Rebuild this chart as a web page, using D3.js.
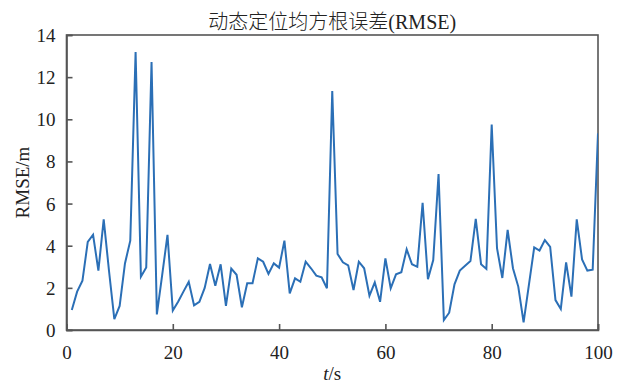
<!DOCTYPE html>
<html>
<head>
<meta charset="utf-8">
<script src="https://cdn.jsdelivr.net/npm/d3@7"></script>
<style>
	html, body { margin: 0; padding: 0; background: #fff; }
	svg { display: block; }
</style>
</head>
<body>
<div id="chart"></div>
<script>
// RMSE, one value per second, t = 1..100
var tValues = d3.range(1, 101);
var rmseValues = [
	0.95, 1.82, 2.34, 4.18, 4.52, 2.82, 5.25, 2.8, 0.52, 1.14,
	3.16, 4.24, 13.19, 2.53, 2.97, 12.72, 0.74, 2.6, 4.52, 0.92,
	1.34, 1.82, 2.29, 1.17, 1.34, 2.0, 3.13, 2.1, 3.12, 1.14,
	2.91, 2.62, 1.08, 2.22, 2.22, 3.4, 3.24, 2.66, 3.16, 2.96,
	4.24, 1.74, 2.45, 2.29, 3.24, 2.93, 2.58, 2.5, 1.98, 11.34,
	3.61, 3.21, 3.07, 1.9, 3.24, 2.93, 1.63, 2.26, 1.34, 3.4,
	1.98, 2.64, 2.74, 3.83, 3.12, 3.0, 6.04, 2.41, 3.32, 7.4,
	0.47, 0.82, 2.17, 2.82, 3.05, 3.27, 5.27, 3.12, 2.9, 9.75,
	3.88, 2.47, 4.75, 2.93, 2.06, 0.36, 2.14, 3.92, 3.77, 4.27,
	3.95, 1.42, 1.0, 3.21, 1.58, 5.25, 3.35, 2.82, 2.86, 9.33
];
var xTicks = [0, 20, 40, 60, 80, 100];
var yTicks = [0, 2, 4, 6, 8, 10, 12, 14];
var titleCn = "动态定位均方根误差";
var titleEn = "(RMSE)";
var yLabel = "RMSE/m";

var width = 624,
	height = 385,
	margin = {top: 35, right: 26, bottom: 55, left: 66.5},
	iw = width - margin.left - margin.right,
	ih = height - margin.top - margin.bottom,
	axisColor = "#555",
	lineColor = "#2b6fb6",
	numFont = "'Liberation Serif', 'DejaVu Serif', serif";

var svg = d3.select("#chart")
	.append("svg")
	.attr("width", width)
	.attr("height", height);

var x = d3.scaleLinear().domain([0, 100]).range([0, iw]);
var y = d3.scaleLinear().domain([0, 14]).range([ih, 0]);

var g = svg.append("g")
	.attr("transform", "translate(" + margin.left + "," + margin.top + ")");

// frame
g.append("rect")
	.attr("x", 0).attr("y", 0)
	.attr("width", iw).attr("height", ih)
	.attr("fill", "none")
	.attr("stroke", axisColor)
	.attr("stroke-width", 1.6);

var clipId = "plotclip";
g.append("clipPath").attr("id", clipId)
	.append("rect").attr("width", iw).attr("height", ih);

// axes with inward ticks
var xAxis = g.append("g")
	.attr("transform", "translate(0," + ih + ")")
	.call(d3.axisBottom(x).tickValues(xTicks).tickSize(-6).tickPadding(12).tickFormat(d3.format("d")));

var yAxis = g.append("g")
	.call(d3.axisLeft(y).tickValues(yTicks).tickSize(-6).tickPadding(11).tickFormat(d3.format("d")));

[xAxis, yAxis].forEach(function (a) {
	a.select(".domain").attr("stroke", axisColor).attr("stroke-width", 1.6);
	a.selectAll(".tick line").attr("stroke", axisColor).attr("stroke-width", 1.6);
	a.selectAll(".tick text")
		.attr("fill", "#222")
		.style("font-family", numFont)
		.style("font-size", "19px");
});
xAxis.selectAll(".tick text").attr("dy", "0.9em");
yAxis.selectAll(".tick text").attr("dy", "0.34em");

var line = d3.line()
	.x(function (d, i) { return x(tValues[i]); })
	.y(function (d) { return y(d); });

g.append("path")
	.datum(rmseValues)
	.attr("clip-path", "url(#" + clipId + ")")
	.attr("fill", "none")
	.attr("stroke", lineColor)
	.attr("stroke-width", 2)
	.attr("stroke-linejoin", "miter")
	.attr("d", line);

// title: Chinese part + serif latin part
var title = svg.append("text")
	.attr("x", margin.left + iw / 2)
	.attr("y", 29)
	.attr("text-anchor", "middle")
	.attr("fill", "#222")
	.style("font-size", "20px");
title.append("tspan")
	.style("font-family", "'Noto Sans CJK SC', sans-serif")
	.style("font-weight", 300)
	.text(titleCn);
title.append("tspan")
	.style("font-family", numFont)
	.text(titleEn);

// y label
svg.append("text")
	.attr("transform", "translate(29," + (margin.top + ih / 2) + ") rotate(-90)")
	.attr("text-anchor", "middle")
	.attr("fill", "#222")
	.style("font-family", numFont)
	.style("font-size", "19px")
	.text(yLabel);

// x label, t in italics
var xl = svg.append("text")
	.attr("x", margin.left + iw / 2)
	.attr("y", 380)
	.attr("text-anchor", "middle")
	.attr("fill", "#222")
	.style("font-family", numFont)
	.style("font-size", "19px");
xl.append("tspan").style("font-style", "italic").text("t");
xl.append("tspan").text("/s");
</script>
</body>
</html>
